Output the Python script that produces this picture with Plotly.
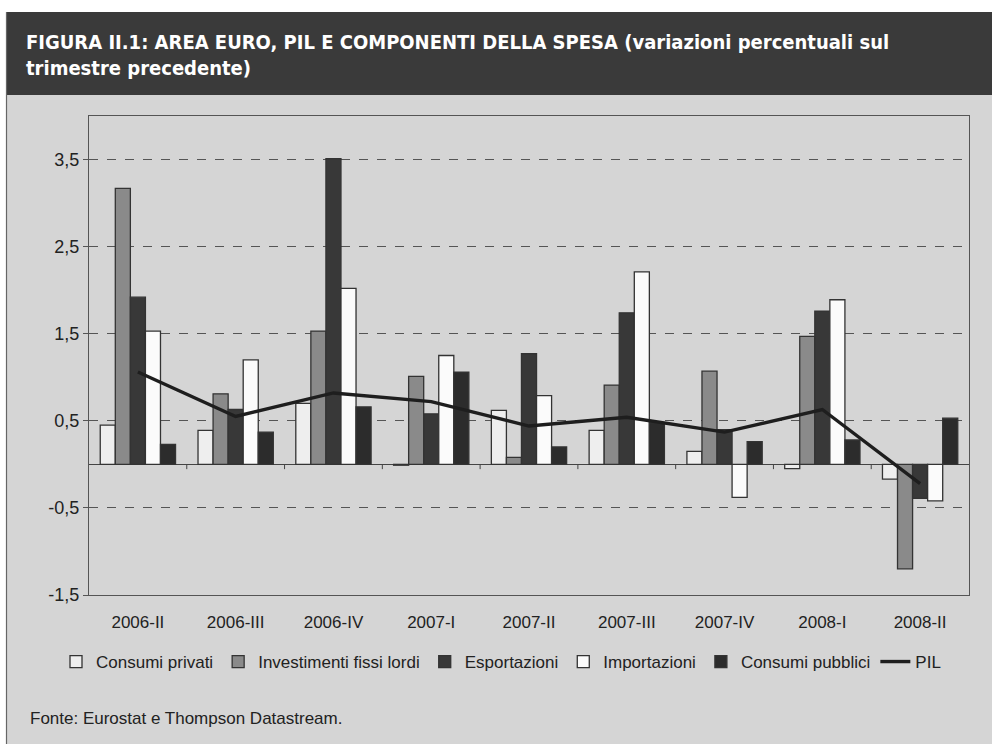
import plotly.graph_objects as go

# Quarterly percentage changes, euro area
quarters = ["2006-II", "2006-III", "2006-IV", "2007-I", "2007-II",
            "2007-III", "2007-IV", "2008-I", "2008-II"]
consumi_privati = [0.45, 0.39, 0.70, -0.01, 0.62, 0.39, 0.15, -0.05, -0.17]
investimenti = [3.17, 0.81, 1.53, 1.01, 0.08, 0.91, 1.07, 1.47, -1.20]
esportazioni = [1.92, 0.63, 3.51, 0.58, 1.27, 1.74, 0.40, 1.76, -0.39]
importazioni = [1.53, 1.20, 2.02, 1.25, 0.79, 2.21, -0.38, 1.89, -0.42]
consumi_pubblici = [0.23, 0.37, 0.66, 1.06, 0.20, 0.48, 0.26, 0.28, 0.53]
pil = [1.06, 0.55, 0.82, 0.72, 0.44, 0.54, 0.37, 0.63, -0.22]

y_ticks = [-1.5, -0.5, 0.5, 1.5, 2.5, 3.5]
y_tick_text = ["-1,5", "-0,5", "0,5", "1,5", "2,5", "3,5"]

W, H = 992, 744
L, R, T, B = 89, 969, 116, 595


def px(x):
    return (x - L) / (R - L)


def py(y):
    return (B - y) / (B - T)


BG = "#d5d5d5"
OUT = "#333333"

bar_specs = [
    ("Consumi privati", consumi_privati, "#eeeeee"),
    ("Investimenti fissi lordi", investimenti, "#8a8a8a"),
    ("Esportazioni", esportazioni, "#383838"),
    ("Importazioni", importazioni, "#fbfbfb"),
    ("Consumi pubblici", consumi_pubblici, "#2c2c2c"),
]

fig = go.Figure()
for name, vals, col in bar_specs:
    fig.add_trace(go.Bar(
        x=quarters, y=vals, name=name,
        marker=dict(color=col, line=dict(color=OUT, width=1.3)),
    ))

fig.add_trace(go.Scatter(
    x=quarters, y=pil, name="PIL", mode="lines",
    line=dict(color="#1e1e1e", width=3.4),
))

# small category tick marks hanging below the zero line
shapes = []
for i in range(len(quarters) - 1):
    shapes.append(dict(type="line", xref="x", yref="y",
                       x0=i + 0.5, x1=i + 0.5, y0=0, y1=-0.055,
                       line=dict(color="#444444", width=1)))

# header band
shapes.append(dict(type="rect", xref="paper", yref="paper",
                   x0=px(6), x1=px(W + 2), y0=py(95), y1=py(12),
                   fillcolor="#3a3a3a", line=dict(width=0), layer="below"))
# white page edge at top and left
shapes.append(dict(type="rect", xref="paper", yref="paper",
                   x0=px(-2), x1=px(W + 2), y0=py(12), y1=py(-2),
                   fillcolor="white", line=dict(width=0), layer="below"))
shapes.append(dict(type="rect", xref="paper", yref="paper",
                   x0=px(-2), x1=px(6), y0=py(H + 2), y1=py(12),
                   fillcolor="white", line=dict(width=0), layer="below"))
shapes.append(dict(type="line", xref="paper", yref="paper",
                   x0=px(6.5), x1=px(6.5), y0=py(H + 2), y1=py(12),
                   line=dict(color="#666666", width=1.2), layer="below"))

annotations = [
    dict(xref="paper", yref="paper", x=px(24), y=py(55), xanchor="left",
         yanchor="middle", align="left", showarrow=False,
         text="FIGURA II.1: AREA EURO, PIL E COMPONENTI DELLA SPESA "
              "(variazioni percentuali sul<br>trimestre precedente)",
         font=dict(family="DejaVu Sans Condensed", size=20, color="white",
                   weight="bold")),
    dict(xref="paper", yref="paper", x=px(28), y=py(718), xanchor="left",
         yanchor="middle", showarrow=False,
         text="Fonte: Eurostat e Thompson Datastream.",
         font=dict(family="Liberation Sans", size=17, color="#222222")),
]

fig.update_layout(
    width=W, height=H,
    margin=dict(l=L, r=W - R, t=T, b=H - B),
    paper_bgcolor=BG, plot_bgcolor=BG,
    barmode="group", bargap=0.23, bargroupgap=0,
    separators=",.",
    font=dict(family="Liberation Sans", size=16, color="#222222"),
    showlegend=True,
    legend=dict(orientation="h", x=px(56), y=py(662), xanchor="left",
                yanchor="middle", bgcolor="rgba(0,0,0,0)",
                font=dict(family="Liberation Sans", size=17, color="#222222"),
                itemwidth=30, tracegroupgap=0),
    shapes=shapes,
    annotations=annotations,
    xaxis=dict(showline=True, mirror=True, linecolor="#555555", linewidth=1,
               ticks="", showgrid=False, ticklabelstandoff=12,
               tickfont=dict(size=17, color="#222222"), fixedrange=True),
    yaxis=dict(range=[-1.5, 4.0], tickvals=y_ticks, ticktext=y_tick_text,
               showline=True, mirror=True, linecolor="#555555", linewidth=1,
               ticks="outside", ticklen=5, tickcolor="#555555",
               showgrid=True, gridcolor="#555555", griddash="dash",
               gridwidth=1,
               zeroline=True, zerolinecolor="#444444", zerolinewidth=1,
               tickfont=dict(size=18, color="#222222"), fixedrange=True),
)

fig.write_html("out.html")
